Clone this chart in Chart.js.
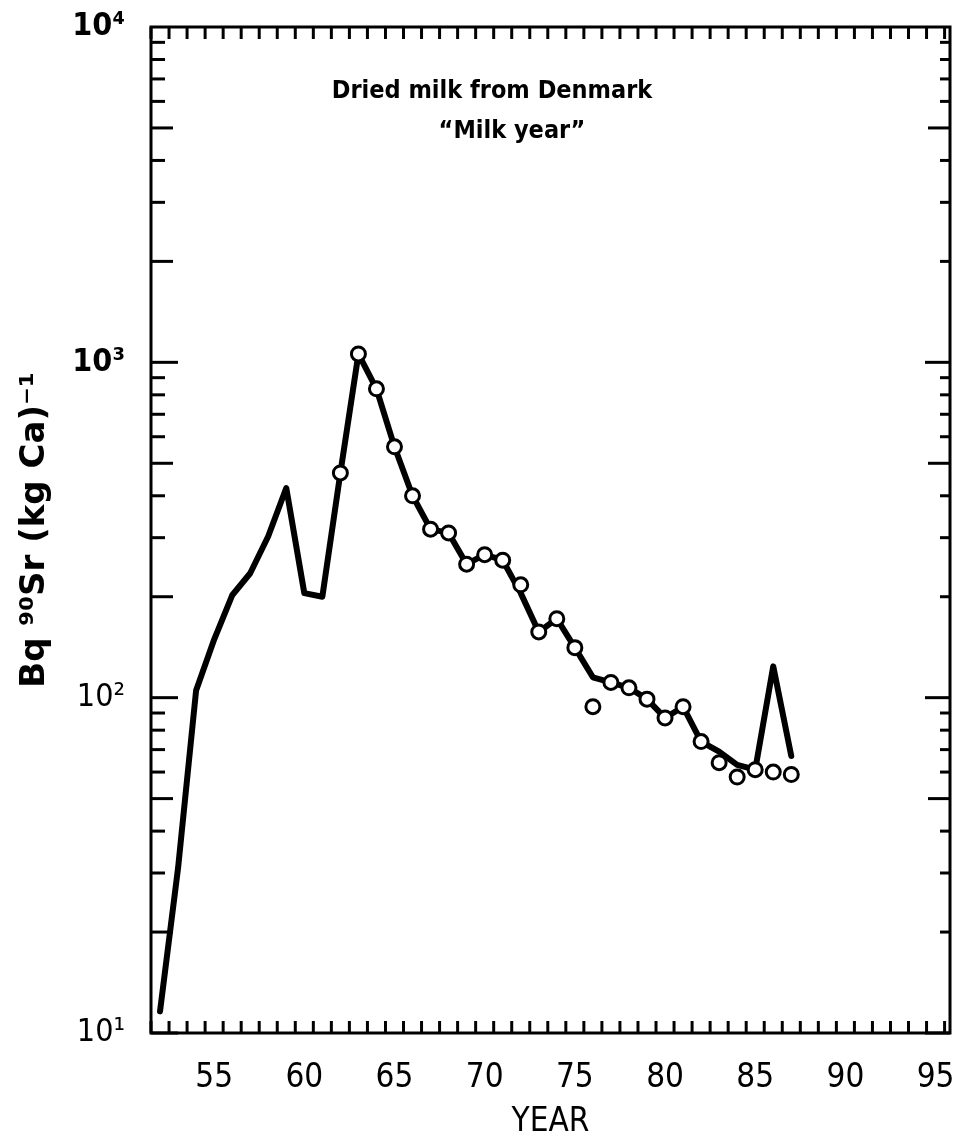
<!DOCTYPE html>
<html>
<head>
<meta charset="utf-8">
<title>Dried milk from Denmark</title>
<script src="https://cdn.jsdelivr.net/npm/chart.js@4.4.1/dist/chart.umd.min.js"></script>
<style>
  html, body { margin: 0; padding: 0; background: #fff; }
  #wrap { width: 963px; height: 1147px; }
</style>
</head>
<body>
<div id="wrap"><canvas id="milk-chart" width="963" height="1147"></canvas></div>
<script>
// yearly means, solid curve (year = 19xx)
const lineYears = [52, 53, 54, 55, 56, 57, 58, 59, 60, 61, 62, 63, 64, 65, 66, 67, 68, 69,
  70, 71, 72, 73, 74, 75, 76, 77, 78, 79, 80, 81, 82, 83, 84, 85, 86, 87];
const lineValues = [11.6, 31, 105, 149, 202, 235, 303, 422, 205, 200, 468, 1059, 834, 560, 400, 318, 310, 250,
  267, 257, 205, 157, 172, 141, 115, 111, 107, 99, 87, 94, 74, 69, 63, 61, 124, 67];

// "milk year" samples, open circles
const circleYears = [62, 63, 64, 65, 66, 67, 68, 69, 70, 71, 72, 73, 74, 75, 76, 77, 78, 79,
  80, 81, 82, 83, 84, 85, 86, 87];
const circleValues = [468, 1059, 834, 560, 400, 318, 310, 250, 267, 257, 217, 157, 172, 141, 94, 111, 107, 99,
  87, 94, 74, 64, 58, 61, 60, 59];

const yearLabels = [55, 60, 65, 70, 75, 80, 85, 90, 95];
const decadeLabels = { 10: "10\u00b9", 100: "10\u00b2", 1000: "10\u00b3", 10000: "10\u2074" };

const condensed = "'DejaVu Sans Condensed', 'DejaVu Sans', sans-serif";

// values are plotted in the middle of each year
const mid = (yr) => yr + 0.5;

// box frame with inward ticks on all four sides
const frameTicks = {
  id: "frameTicks",
  beforeDatasetsDraw(chart) {
    const { ctx, chartArea: a, scales: { x, y } } = chart;
    const line = (x1, y1, x2, y2) => {
      ctx.beginPath();
      ctx.moveTo(x1, y1);
      ctx.lineTo(x2, y2);
      ctx.stroke();
    };
    ctx.save();
    ctx.strokeStyle = "#000";
    ctx.lineWidth = 3;
    ctx.lineCap = "butt";
    ctx.strokeRect(a.left, a.top, a.width, a.height);

    for (let yr = Math.ceil(x.min); yr <= x.max; yr++) {
      const px = x.getPixelForValue(yr);
      line(px, a.top, px, a.top + 12);
      line(px, a.bottom, px, a.bottom - 12);
    }

    for (let d = 10; d < 10000; d *= 10) {
      for (let m = 1; m <= 9; m++) {
        const py = y.getPixelForValue(m * d);
        const left = m === 1 ? 27 : (m === 2 || m === 5) ? 22 : 14;
        const right = m === 1 ? 25 : m === 5 ? 22 : 10;
        line(a.left, py, a.left + left, py);
        line(a.right, py, a.right - right, py);
      }
    }
    ctx.restore();
  },
};

// caption inside the plot box
const caption = {
  id: "caption",
  afterDraw(chart) {
    const { ctx } = chart;
    ctx.save();
    ctx.fillStyle = "#000";
    ctx.textAlign = "center";
    ctx.textBaseline = "middle";
    ctx.font = "bold 25px " + condensed;
    ctx.fillText("Dried milk from Denmark", 492, 91);
    ctx.fillText("\u201cMilk year\u201d", 512, 131);
    ctx.restore();
  },
};

const ctx = document.getElementById("milk-chart").getContext("2d");
new Chart(ctx, {
  type: "line",
  data: {
    datasets: [
      {
        label: "Milk year",
        data: circleYears.map((yr, i) => ({ x: mid(yr), y: circleValues[i] })),
        showLine: false,
        pointRadius: 7,
        pointBorderWidth: 3,
        pointBackgroundColor: "#fff",
        pointBorderColor: "#000",
        order: 0,
      },
      {
        label: "Dried milk",
        data: lineYears.map((yr, i) => ({ x: mid(yr), y: lineValues[i] })),
        borderColor: "#000",
        borderWidth: 6,
        borderJoinStyle: "round",
        borderCapStyle: "round",
        pointRadius: 0,
        tension: 0,
        fill: false,
        order: 1,
      },
    ],
  },
  options: {
    responsive: false,
    animation: false,
    devicePixelRatio: 1,
    layout: { padding: { top: 27, right: 13, bottom: 0, left: 0 } },
    plugins: {
      legend: { display: false },
      tooltip: { enabled: false },
    },
    scales: {
      x: {
        type: "linear",
        min: 52,
        max: 96.3,
        grid: { display: false, drawTicks: false },
        border: { display: false },
        afterFit(scale) {
          scale.height = 114;
          scale.paddingLeft = 0;
          scale.paddingRight = 0;
        },
        afterBuildTicks(scale) {
          scale.ticks = yearLabels.map((v) => ({ value: mid(v) }));
        },
        ticks: {
          autoSkip: false,
          maxRotation: 0,
          padding: 26,
          color: "#000",
          font: { family: condensed, size: 33 },
          callback: (value) => String(Math.floor(value)),
        },
        title: {
          display: true,
          text: "YEAR",
          color: "#000",
          font: { family: condensed, size: 33 },
          padding: { top: 0, bottom: 5 },
        },
      },
      y: {
        type: "logarithmic",
        min: 10,
        max: 10000,
        grid: { display: false, drawTicks: false },
        border: { display: false },
        afterFit(scale) {
          scale.width = 151;
          scale.paddingTop = 0;
          scale.paddingBottom = 0;
        },
        afterBuildTicks(scale) {
          scale.ticks = Object.keys(decadeLabels).map((v) => ({ value: Number(v) }));
        },
        ticks: {
          autoSkip: false,
          padding: 26,
          color: "#000",
          font: (c) => ({
            family: condensed,
            size: 32,
            weight: c.tick && c.tick.value >= 1000 ? "bold" : "normal",
          }),
          callback: (value) => decadeLabels[value] || "",
        },
        title: {
          display: true,
          text: "Bq \u2079\u2070Sr (kg Ca)\u207b\u00b9",
          color: "#000",
          font: { family: "'DejaVu Sans', sans-serif", size: 34, weight: "bold" },
          padding: { top: 15, bottom: 0 },
        },
      },
    },
  },
  plugins: [frameTicks, caption],
});
</script>
</body>
</html>
